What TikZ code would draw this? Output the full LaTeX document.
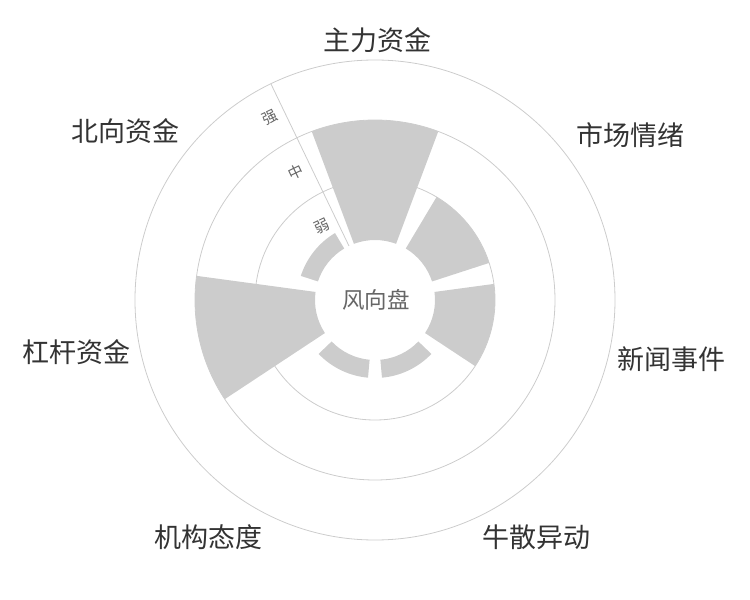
\documentclass[tikz,border=0pt]{standalone}
\usepackage{fontspec}
\newfontfamily\cjk{Noto Sans CJK SC}
\definecolor{gridgray}{HTML}{CCCCCC}
\definecolor{bargray}{HTML}{CCCCCC}
\definecolor{textdark}{HTML}{333333}
\definecolor{textmid}{HTML}{666666}
\begin{document}
\begin{tikzpicture}[x=1pt,y=1pt,
    ring/.style={draw=gridgray,line width=0.8pt},
    petal/.style={fill=bargray},
    cat/.style={font=\cjk\fontsize{27}{30}\selectfont,text=textdark,inner sep=0pt},
    level/.style={font=\cjk\fontsize{15}{18}\selectfont,text=textmid,inner sep=0pt,rotate=25.71}]
    \useasboundingbox (-375,-300) rectangle (375,300);
    \foreach \r in {120,180,240}
    \draw[ring] (0,0) circle (\r);
    \draw[ring] (115.71:60) -- (115.71:240);
    \foreach \a/\v in {90/180,38.57/120,-12.86/120,-64.29/78,-115.71/78,-167.14/180,141.43/78}
    \fill[petal] (\a-20.57:60) arc[start angle=\a-20.57,end angle=\a+20.57,radius=60]
        -- (\a+20.57:\v) arc[start angle=\a+20.57,end angle=\a-20.57,radius=\v] -- cycle;
    \path (115.71:90) ++(205.71:16) node[level] (ruo) {弱};
    \path (115.71:150) ++(205.71:16) node[level] (zhong) {中};
    \path (115.71:210) ++(205.71:16) node[level] (qiang) {强};
    \node[font=\cjk\fontsize{22.5}{26}\selectfont,text=textmid] (hub) at (1,0) {风向盘};
    \node[cat] (zhuli) at (2.5,260) {主力资金};
    \node[cat] (qingxu) at (255.5,164.5) {市场情绪};
    \node[cat] (xinwen) at (296.5,-59) {新闻事件};
    \node[cat] (niusan) at (161,-237.5) {牛散异动};
    \node[cat] (jigou) at (-166.5,-237.5) {机构态度};
    \node[cat] (ganggan) at (-298,-52) {杠杆资金};
    \node[cat] (beixiang) at (-249,169) {北向资金};
\end{tikzpicture}
\end{document}
